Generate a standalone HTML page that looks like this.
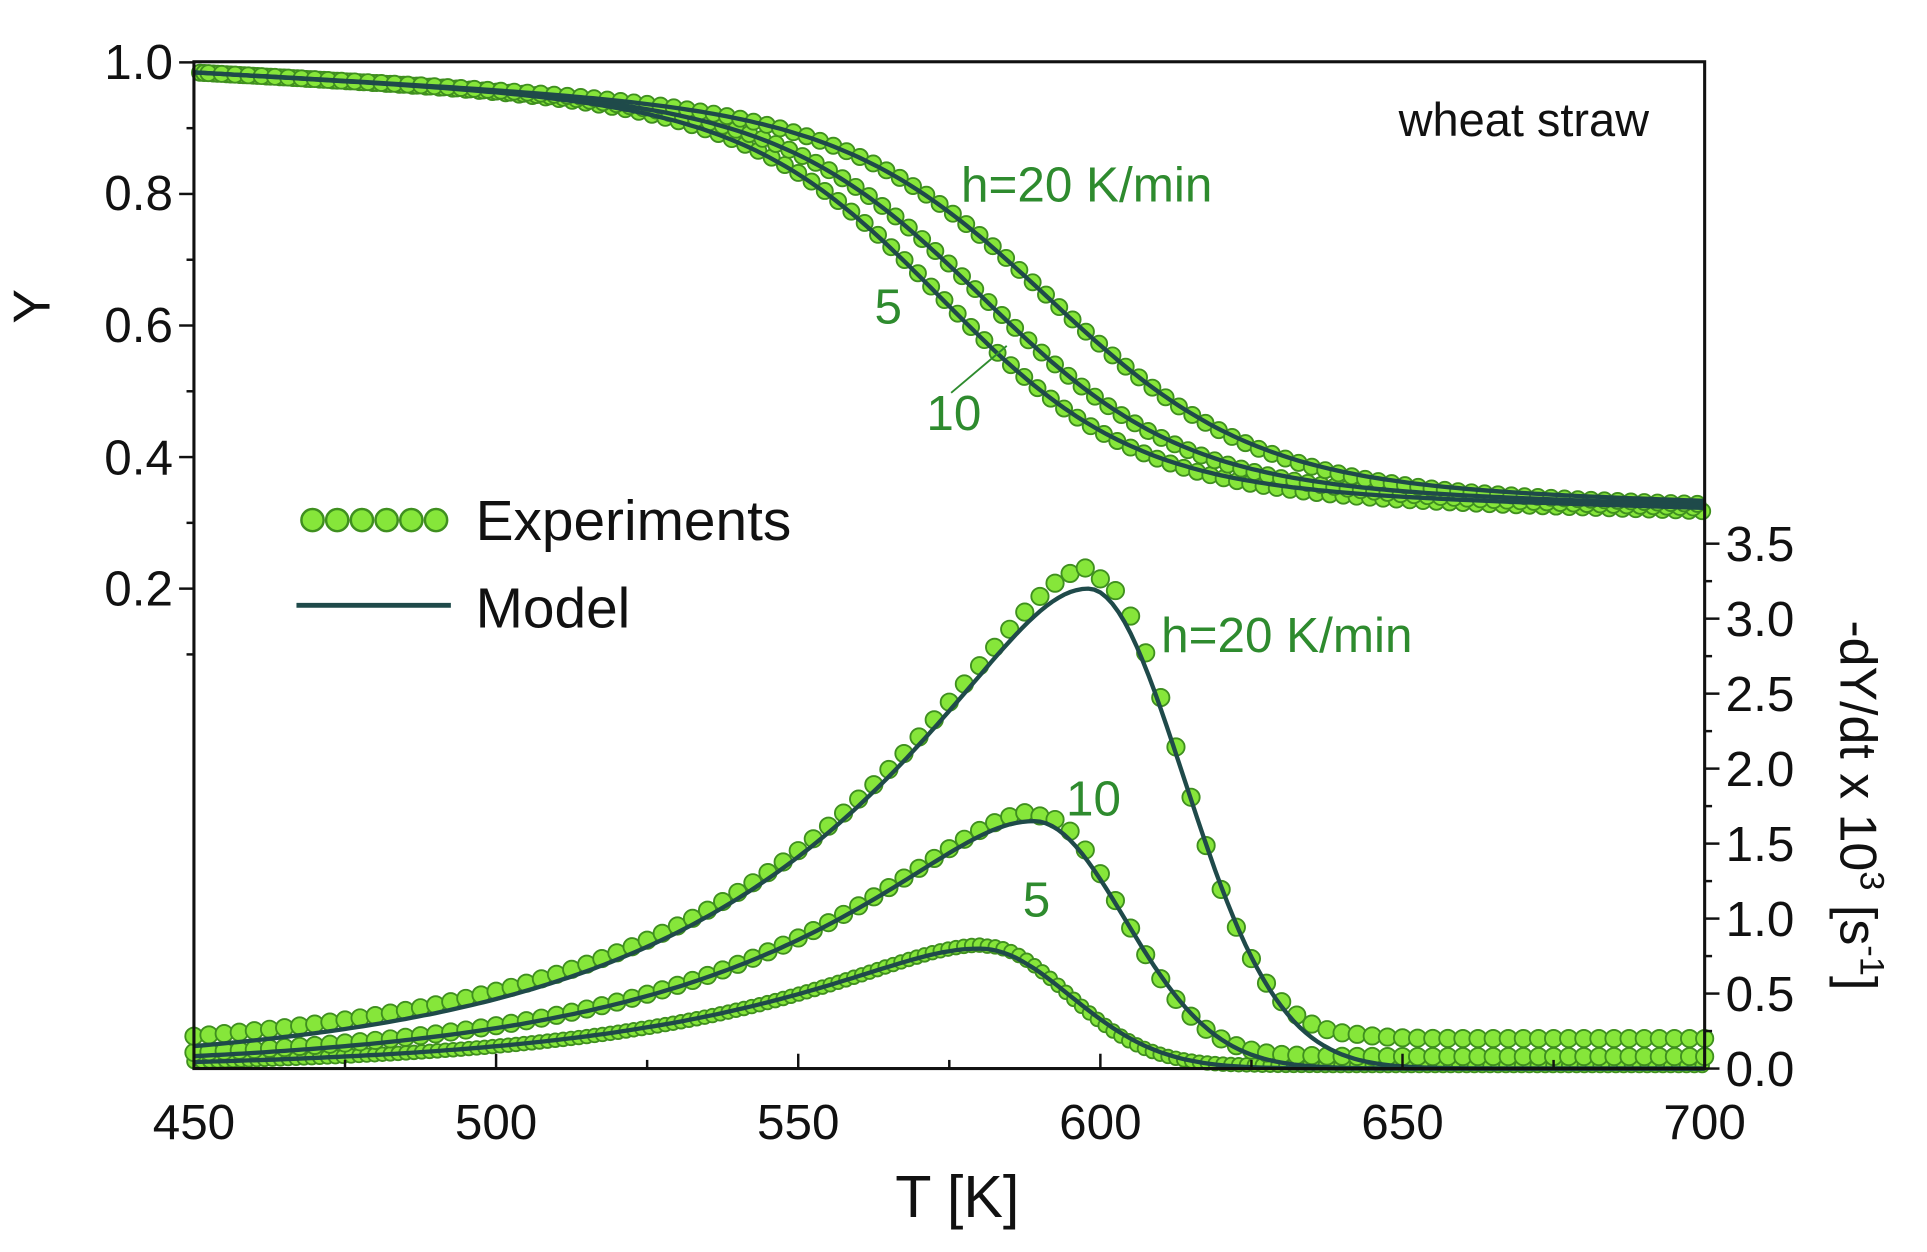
<!DOCTYPE html>
<html><head><meta charset="utf-8"><style>
html,body{margin:0;padding:0;background:#fff;}
svg{display:block;}
text{font-family:"Liberation Sans",Arial,sans-serif;}
</style></head><body>
<svg id="s" width="1927" height="1252" viewBox="0 0 1560 1013.5" preserveAspectRatio="none" xmlns="http://www.w3.org/2000/svg">
<g id="data"></g>
<g id="axes" stroke="#111" stroke-width="2.5" fill="none">
<rect x="157" y="50" width="1223" height="815"/>
</g>
<g id="tk" stroke="#111" stroke-width="2"></g>
<g font-size="40" fill="#111">
<text x="140" y="64" text-anchor="end">1.0</text>
<text x="140" y="170" text-anchor="end">0.8</text>
<text x="140" y="277" text-anchor="end">0.6</text>
<text x="140" y="384" text-anchor="end">0.4</text>
<text x="140" y="490" text-anchor="end">0.2</text>
<text x="55" y="263" font-size="42" text-anchor="middle" transform="rotate(-90 40 263)">Y</text>
</g>
<g font-size="40" fill="#111" text-anchor="middle" id="xl"></g>
<g font-size="40" fill="#111" id="rl"></g>
<text x="775" y="985" font-size="48" text-anchor="middle" fill="#111">T [K]</text>
<text transform="translate(1490 652) rotate(90)" font-size="42" text-anchor="middle" fill="#111">-dY/dt x 10<tspan dy="-16" font-size="28">3</tspan><tspan dy="16"> [s</tspan><tspan dy="-16" font-size="28">-1</tspan><tspan dy="16">]</tspan></text>
<text x="1335" y="110" font-size="38" text-anchor="end" fill="#111">wheat straw</text>
<g fill="#2e8b2e" font-size="40">
<text x="778" y="163">h=20 K/min</text>
<text x="708" y="262">5</text>
<text x="750" y="348">10</text>
<text x="940" y="528">h=20 K/min</text>
<text x="863" y="660">10</text>
<text x="828" y="742">5</text>
</g>
<line x1="770" y1="318" x2="815" y2="280" stroke="#2e8b2e" stroke-width="1.5"/>
<g id="leg"></g>
<text x="385" y="437" font-size="46" fill="#111">Experiments</text>
<line x1="240" y1="490" x2="365" y2="490" stroke="#1f4a4a" stroke-width="4"/>
<text x="385" y="508" font-size="46" fill="#111">Model</text>
</svg>
<script>
var NS="http://www.w3.org/2000/svg";
function el(p,t,a){var e=document.createElementNS(NS,t);for(var k in a)e.setAttribute(k,a[k]);p.appendChild(e);return e;}
function X(T){return 157+(T-450)*1223/250;}
function YL(y){return 583-y*532.5;}
function YR(v){return 865-v*121.4;}
var tk=document.getElementById('tk');
for(var T=450;T<=700;T+=25){var x=X(T);el(tk,'line',{x1:x,y1:865,x2:x,y2:T%50==0?853:858});}
for(var T=450;T<=700;T+=50){var t=el(document.getElementById('xl'),'text',{x:X(T),y:922});t.textContent=T;}
for(var v=0.1;v<=1.001;v+=0.1){var y=YL(v);var maj=Math.abs((v*10)%2)<0.01||Math.abs((v*10)%2-2)<0.01;el(tk,'line',{x1:157,y1:y,x2:maj?145:151,y2:y});}
for(var i=0;i<=14;i++){var v=i*0.25,y=YR(v);el(tk,'line',{x1:1380,y1:y,x2:i%2==0?1392:1386,y2:y});if(i%2==0){var t=el(document.getElementById('rl'),'text',{x:1397,y:y+14});t.textContent=(v).toFixed(1);}}
var g=document.getElementById('data');
function Ycur(T,Tm,w,b){var base=b-0.00025*(T-650);return base+(0.985-0.03*(T-450)/120-(b+0.05))/(1+Math.exp((T-Tm)/w));}
function dtg(T,Tp,H,s,wr){if(T>=Tp){var d=(T-Tp)/wr;return H*Math.exp(-d*d/2);}var d=Tp-T,a=14;return H*Math.exp(-(Math.sqrt(1+(d/a)*(d/a))-1)*a/s);}
var ys=[[574,16,0.335],[581,16.5,0.34],[592,17,0.345]];
var ds=[[580,0.8,40,15],[589,1.65,42,15],[598,3.2,44,15.8]];
var dots="",lines="";
ys.forEach(function(p,k){var pts=[];for(var T=450;T<=700;T+=1)pts.push(X(T).toFixed(1)+","+YL(Ycur(T,p[0],p[1],p[2])).toFixed(1));
 lines+='<polyline points="'+pts.join(" ")+'" fill="none" stroke="#1f4a4a" stroke-width="3.5"/>';
 for(var T=451+k*0.7;T<=700;T+=2.2)dots+='<circle cx="'+X(T).toFixed(1)+'" cy="'+YL(Ycur(T,p[0]+0.5,p[1],p[2]-0.005)).toFixed(1)+'" r="6.5"/>';});
var tails=[0.02,0.08,0.2];
ds.forEach(function(p,k){var pts=[];for(var T=450;T<=700;T+=1)pts.push(X(T).toFixed(1)+","+YR(dtg(T,p[0],p[1],p[2],p[3])).toFixed(1));
 lines+='<polyline points="'+pts.join(" ")+'" fill="none" stroke="#1f4a4a" stroke-width="3.5"/>';
 var step=k==0?1.3:2.5,r=k==0?5.5:7;
 for(var T=450;T<=700;T+=step){var v=dtg(T,p[0]+1,p[1]*1.02,p[2]*0.97,p[3]*0.9)+tails[k]*(T>p[0]?Math.min(1,(T-p[0])/45):0.4);dots+='<circle cx="'+X(T).toFixed(1)+'" cy="'+YR(v).toFixed(1)+'" r="'+r+'"/>';}});
g.innerHTML='<g fill="#86e63a" stroke="#3f8f1f" stroke-width="1.5">'+dots+'</g>'+lines;
var leg=document.getElementById('leg'),s2="";
for(var i=0;i<6;i++)s2+='<circle cx="'+(253+i*20)+'" cy="421" r="9" fill="#86e63a" stroke="#3f8f1f" stroke-width="2"/>';
leg.innerHTML=s2;
</script>
</body></html>
